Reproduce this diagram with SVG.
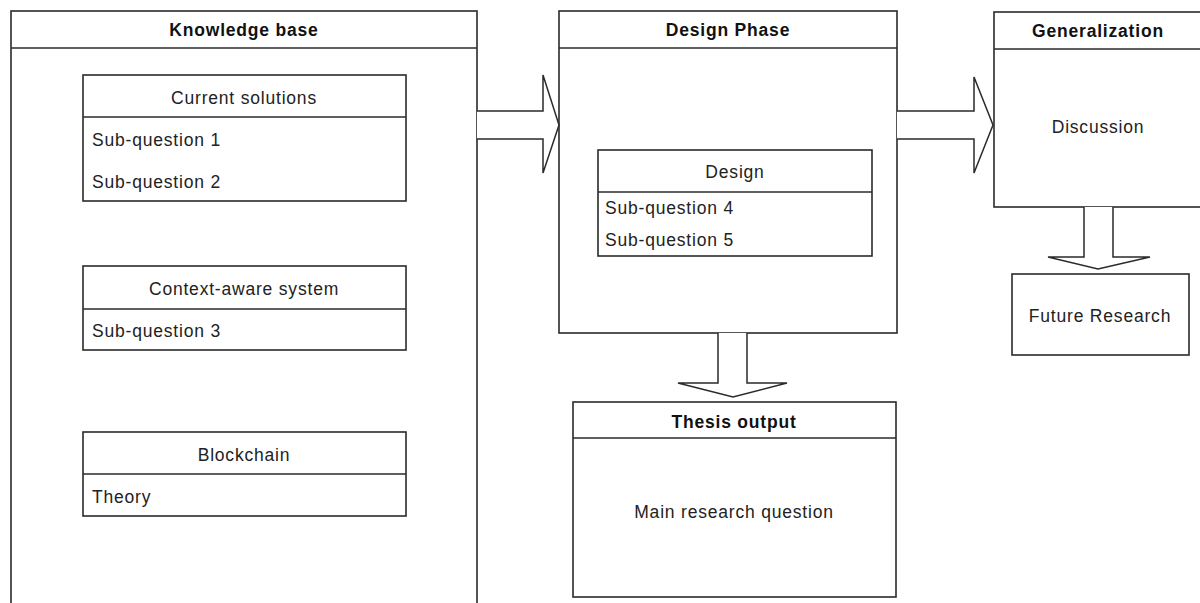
<svg xmlns="http://www.w3.org/2000/svg" width="1200" height="603" viewBox="0 0 1200 603">
  <style>
    .box { fill: #ffffff; stroke: #2a2a2a; stroke-width: 1.6; }
    .div { stroke: #2a2a2a; stroke-width: 1.6; fill: none; }
    .arrow { fill: #ffffff; stroke: #2a2a2a; stroke-width: 1.5; stroke-linejoin: miter; }
    text { font-family: "Liberation Sans", Arial, sans-serif; font-size: 17.5px; letter-spacing: 0.8px; fill: #222222; }
    .title { font-weight: bold; text-anchor: middle; fill: #111111; }
    .mid { text-anchor: middle; }
  </style>
  <rect width="1200" height="603" fill="#ffffff"/>

  <!-- Knowledge base column -->
  <g id="knowledge-base">
    <rect class="box" x="11" y="11" width="466" height="600"/>
    <line class="div" x1="11" y1="48" x2="477" y2="48"/>
    <text class="title" x="244" y="36">Knowledge base</text>
  </g>

  <g id="current-solutions">
    <rect class="box" x="83" y="75" width="323" height="126"/>
    <line class="div" x1="83" y1="117" x2="406" y2="117"/>
    <text class="mid" x="244" y="104">Current solutions</text>
    <text x="92" y="146">Sub-question 1</text>
    <text x="92" y="188">Sub-question 2</text>
  </g>

  <g id="context-aware-system">
    <rect class="box" x="83" y="266" width="323" height="84"/>
    <line class="div" x1="83" y1="309" x2="406" y2="309"/>
    <text class="mid" x="244" y="295">Context-aware system</text>
    <text x="92" y="337">Sub-question 3</text>
  </g>

  <g id="blockchain">
    <rect class="box" x="83" y="432" width="323" height="84"/>
    <line class="div" x1="83" y1="474" x2="406" y2="474"/>
    <text class="mid" x="244" y="461">Blockchain</text>
    <text x="92" y="503">Theory</text>
  </g>

  <!-- Design phase column -->
  <g id="design-phase">
    <rect class="box" x="559" y="11" width="338" height="322"/>
    <line class="div" x1="559" y1="48" x2="897" y2="48"/>
    <text class="title" x="728" y="36">Design Phase</text>
  </g>

  <g id="design">
    <rect class="box" x="598" y="150" width="274" height="106"/>
    <line class="div" x1="598" y1="192" x2="872" y2="192"/>
    <text class="mid" x="735" y="178">Design</text>
    <text x="605" y="214">Sub-question 4</text>
    <text x="605" y="246">Sub-question 5</text>
  </g>

  <g id="thesis-output">
    <rect class="box" x="573" y="402" width="323" height="195"/>
    <line class="div" x1="573" y1="438" x2="896" y2="438"/>
    <text class="title" x="734" y="428">Thesis output</text>
    <text class="mid" x="734" y="518">Main research question</text>
  </g>

  <!-- Generalization column -->
  <g id="generalization">
    <rect class="box" x="994" y="12" width="210" height="195"/>
    <line class="div" x1="994" y1="49" x2="1204" y2="49"/>
    <text class="title" x="1098" y="37">Generalization</text>
    <text class="mid" x="1098" y="133">Discussion</text>
  </g>

  <g id="future-research">
    <rect class="box" x="1012" y="274" width="177" height="81"/>
    <text class="mid" x="1100" y="322">Future Research</text>
  </g>

  <!-- Block arrows between phases -->
  <g id="connectors">
    <path class="arrow" d="M477,111 H543 V75 L559,125 L543,173 V139 H477"/>
    <path class="arrow" d="M897,111 H974 V77 L993,125 L974,173 V139 H897"/>
    <path class="arrow" d="M718,333 V383 H678 L733,397 L787,383 H747 V333"/>
    <path class="arrow" d="M1084,207 V257 H1048 L1098,269 L1150,257 H1113 V207"/>
  </g>
</svg>
